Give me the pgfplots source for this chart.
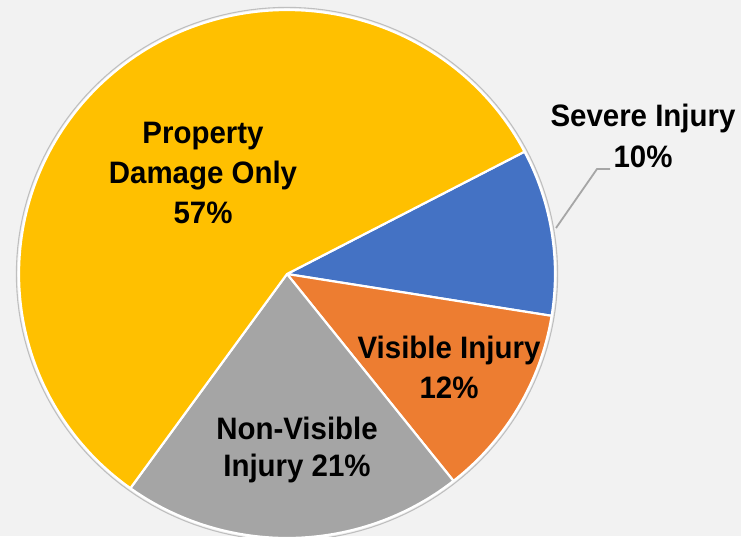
\documentclass[border=0pt]{standalone}
\usepackage{pgfplots}
\pgfplotsset{compat=1.18}
\usepackage{fontspec}
\setmainfont{Liberation Sans}[FakeStretch=0.95]
\definecolor{bgc}{HTML}{F2F2F2}
\definecolor{cprop}{HTML}{FFC000}
\definecolor{csev}{HTML}{4472C4}
\definecolor{cvis}{HTML}{ED7D31}
\definecolor{cnon}{HTML}{A5A5A5}
% shares in percent, clockwise from the Severe Injury slice
\def\sev{10.2}\def\vis{11.8}\def\nonv{20.6}\def\prop{57.4}
\pgfmathsetmacro{\aA}{27.6}
\pgfmathsetmacro{\aB}{\aA-3.6*\sev}
\pgfmathsetmacro{\aC}{\aB-3.6*\vis}
\pgfmathsetmacro{\aD}{\aC-3.6*\nonv}
\pgfmathsetmacro{\aE}{\aD-3.6*\prop}
\def\cx{287}\def\cy{262}\def\rx{268}\def\ry{264}
\begin{document}
\begin{tikzpicture}
\fill[bgc] (0,0) rectangle (741pt,536pt);
\useasboundingbox (0,0) rectangle (741pt,536pt);
\begin{axis}[at={(0,0)}, anchor=south west, scale only axis,
  width=741pt, height=536pt, xmin=0, xmax=741, ymin=0, ymax=536,
  hide axis, clip=true]
\addplot[draw=black!25, line width=1.1pt, domain=0:360, samples=181, variable=\t] ({\cx+(\rx+2.6)*cos(t)},{\cy+(\ry+2.6)*sin(t)});
\addplot[fill=csev, draw=white, line width=2.2pt, line join=round, domain=\aB:\aA, samples=40, variable=\t] ({\cx+\rx*cos(t)},{\cy+\ry*sin(t)}) -- (axis cs:\cx,\cy) -- cycle;
\addplot[fill=cvis, draw=white, line width=2.2pt, line join=round, domain=\aC:\aB, samples=40, variable=\t] ({\cx+\rx*cos(t)},{\cy+\ry*sin(t)}) -- (axis cs:\cx,\cy) -- cycle;
\addplot[fill=cnon, draw=white, line width=2.2pt, line join=round, domain=\aD:\aC, samples=60, variable=\t] ({\cx+\rx*cos(t)},{\cy+\ry*sin(t)}) -- (axis cs:\cx,\cy) -- cycle;
\addplot[fill=cprop, draw=white, line width=2.2pt, line join=round, domain=\aE:\aD, samples=150, variable=\t] ({\cx+\rx*cos(t)},{\cy+\ry*sin(t)}) -- (axis cs:\cx,\cy) -- cycle;
\addplot[draw=black!35, line width=1.8pt, mark=none] coordinates {(556,308) (597,367) (610,367)};
\node[align=center, font=\fontsize{31}{40}\selectfont\bfseries] at (axis cs:203,363) {Property\\Damage Only\\57\%};
\node[align=center, font=\fontsize{31}{41}\selectfont\bfseries] at (axis cs:643,400) {Severe Injury\\10\%};
\node[align=center, font=\fontsize{31}{40}\selectfont\bfseries] at (axis cs:449,169) {Visible Injury\\12\%};
\node[align=center, font=\fontsize{31}{37}\selectfont\bfseries] at (axis cs:297,86) {Non-Visible\\Injury 21\%};
\end{axis}
\end{tikzpicture}
\end{document}
